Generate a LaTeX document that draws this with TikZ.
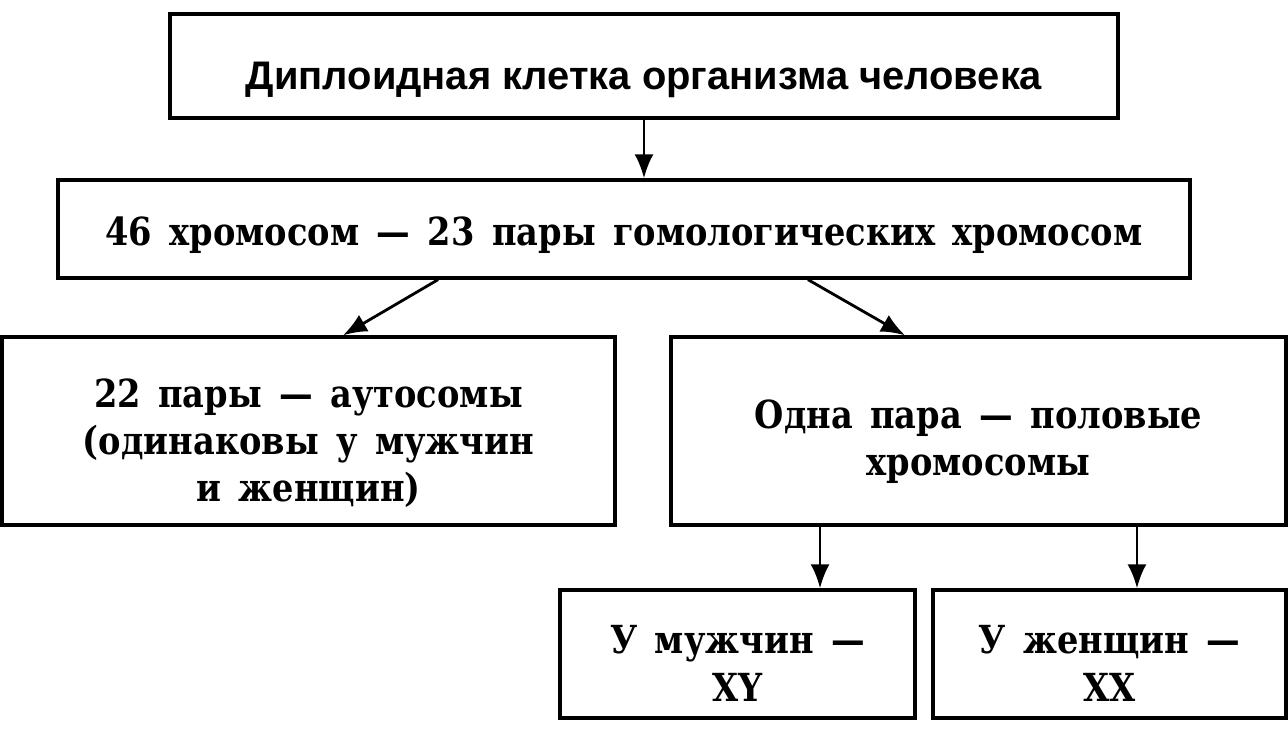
\documentclass[tikz,border=0pt]{standalone}
\usepackage{fontspec}
\setmainfont{DejaVu Serif}[FakeStretch=0.87]
\newfontfamily\headfont{Liberation Sans}
\usetikzlibrary{arrows.meta,positioning}
% strut that moves a box's text down
\newcommand{\lift}[1]{\rule{0pt}{#1}}
% wider word spaces
\newcommand{\widesp}{\spaceskip=0.45em plus 0.1em\relax}

\begin{document}
\begin{tikzpicture}[x=0.02cm,y=-0.02cm,
    box/.style={draw, line width=1.9pt, rectangle, align=center, inner sep=0pt,
        font=\bfseries\fontsize{22}{27}\selectfont\widesp},
    arr/.style={-{Latex[length=0.48cm,width=0.38cm]}, line width=1.6pt}]
        \useasboundingbox (0,0) rectangle (1288,742);
        % levels of the scheme
        \node[box, minimum width=18.96cm, minimum height=2.08cm,
            font=\headfont\bfseries\fontsize{22.7}{26}\selectfont] (cell) at (644,66)
            {\lift{1.09cm}Диплоидная клетка организма человека};
        \node[box, minimum width=22.64cm, minimum height=1.96cm] (chrom) at (624,229)
            {\lift{0.84cm}46 хромосом — 23 пары гомологических хромосом};
        \node[box, minimum width=12.26cm, minimum height=3.76cm] (auto) at (308.5,431)
            {\lift{1.06cm}22 пары — аутосомы\\(одинаковы у мужчин\\и женщин)};
        \node[box, minimum width=12.3cm, minimum height=3.76cm] (sex) at (978.5,431)
            {\lift{1.0cm}Одна пара — половые\\хромосомы};
        \node[box, minimum width=7.1cm, minimum height=2.56cm] (male) at (737.5,654)
            {\lift{0.94cm}У мужчин —\\XY};
        \node[box, minimum width=7.06cm, minimum height=2.56cm] (female) at (1109.5,654)
            {\lift{0.94cm}У женщин —\\XX};

        \draw[arr] (cell.south) -- (cell.south |- chrom.north);
        \draw[arr] ([xshift=-3.72cm]chrom.south) -- ([xshift=0.69cm]auto.north);
        \draw[arr] ([xshift=3.68cm]chrom.south) -- ([xshift=-1.47cm]sex.north);
        \draw[arr] ([xshift=-3.17cm]sex.south) -- ([xshift=-3.17cm]sex.south |- male.north);
        \draw[arr] ([xshift=3.17cm]sex.south) -- ([xshift=3.17cm]sex.south |- female.north);
\end{tikzpicture}
\end{document}
